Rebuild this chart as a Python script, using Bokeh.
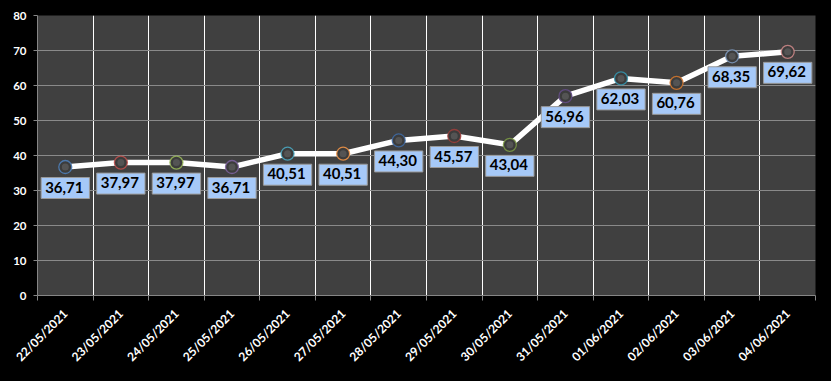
from bokeh.plotting import figure
from bokeh.models import ColumnDataSource, Range1d, FixedTicker
from bokeh.core.properties import value
from bokeh.embed import file_html
from bokeh.resources import INLINE

dates = ["22/05/2021", "23/05/2021", "24/05/2021", "25/05/2021", "26/05/2021",
         "27/05/2021", "28/05/2021", "29/05/2021", "30/05/2021", "31/05/2021",
         "01/06/2021", "02/06/2021", "03/06/2021", "04/06/2021"]
values = [36.71, 37.97, 37.97, 36.71, 40.51, 40.51, 44.30, 45.57, 43.04,
          56.96, 62.03, 60.76, 68.35, 69.62]
rim_colors = ["#4F81BD", "#C0504D", "#9BBB59", "#8064A2", "#4BACC6", "#F79646",
              "#3F6CA8", "#A03E3B", "#7E9C45", "#654C8A", "#3595AE", "#D6782D",
              "#7F9BBF", "#D08A8A"]
y_ticks = [0, 10, 20, 30, 40, 50, 60, 70, 80]

xs = [i + 0.5 for i in range(len(dates))]
labels = [f"{v:.2f}".replace(".", ",") for v in values]
src = ColumnDataSource(dict(x=xs, y=values, lab=labels, rim=rim_colors))

p = figure(width=823, height=373, output_backend="svg", toolbar_location=None,
           x_range=Range1d(0, len(dates)), y_range=Range1d(0, 80),
           min_border_left=37, min_border_top=15, min_border_right=8, min_border_bottom=78)
p.border_fill_color = "#000000"
p.background_fill_color = "#404040"
p.outline_line_color = None

# x axis
p.xaxis.ticker = FixedTicker(ticks=xs, minor_ticks=list(range(len(dates) + 1)))
p.xaxis.major_label_overrides = {x: d for x, d in zip(xs, dates)}
p.xaxis.major_label_orientation = 0.785398
p.xaxis.major_tick_line_color = None
p.xaxis.major_tick_out = 0
p.xaxis.major_tick_in = 0
p.xaxis.minor_tick_out = 5
p.xaxis.minor_tick_in = 0
p.xaxis.minor_tick_line_color = "#868686"
p.xaxis.axis_line_color = "#868686"
p.xaxis.major_label_standoff = 11
p.xaxis.major_label_text_color = "#ffffff"
p.xaxis.major_label_text_font = "Lato"
p.xaxis.major_label_text_font_style = "bold"
p.xaxis.major_label_text_font_size = "12px"

# y axis
p.yaxis.ticker = FixedTicker(ticks=y_ticks)
p.yaxis.major_tick_out = 4
p.yaxis.major_tick_in = 0
p.yaxis.minor_tick_line_color = None
p.yaxis.major_tick_line_color = "#868686"
p.yaxis.axis_line_color = "#868686"
p.yaxis.major_label_standoff = 7
p.yaxis.major_label_text_color = "#ffffff"
p.yaxis.major_label_text_font = "Lato"
p.yaxis.major_label_text_font_style = "bold"
p.yaxis.major_label_text_font_size = "11.5px"

# grids
p.xgrid.ticker = FixedTicker(ticks=list(range(1, len(dates) + 1)))
p.xgrid.grid_line_color = "#ffffff"
p.xgrid.grid_line_width = 1
p.ygrid.ticker = FixedTicker(ticks=y_ticks)
p.ygrid.grid_line_color = "#8a8a8a"
p.ygrid.grid_line_width = 1

# line + markers
p.line("x", "y", source=src, line_color="#ffffff", line_width=5.5)
p.scatter("x", "y", source=src, size=13, fill_color="#3c3c3c",
          line_color="rim", line_width=1.3, line_alpha=0.85)
p.scatter("x", "y", source=src, size=7, fill_color="#808080", fill_alpha=0.35,
          line_color=None)

# data labels
p.text("x", "y", text="lab", source=src, y_offset=21,
       text_align="center", text_baseline="middle",
       text_font=value("Lato"), text_font_style="bold", text_font_size="15px",
       text_color="#000000",
       background_fill_color="#a6c9f8", border_line_color="#9a9a9a",
       border_line_width=1, padding=[4, 6, 4, 6])

template = """{% block preamble %}<style>html, body { background-color: #000000; }</style>{% endblock %}"""
open("out.html", "w").write(file_html(p, INLINE, template=template))
